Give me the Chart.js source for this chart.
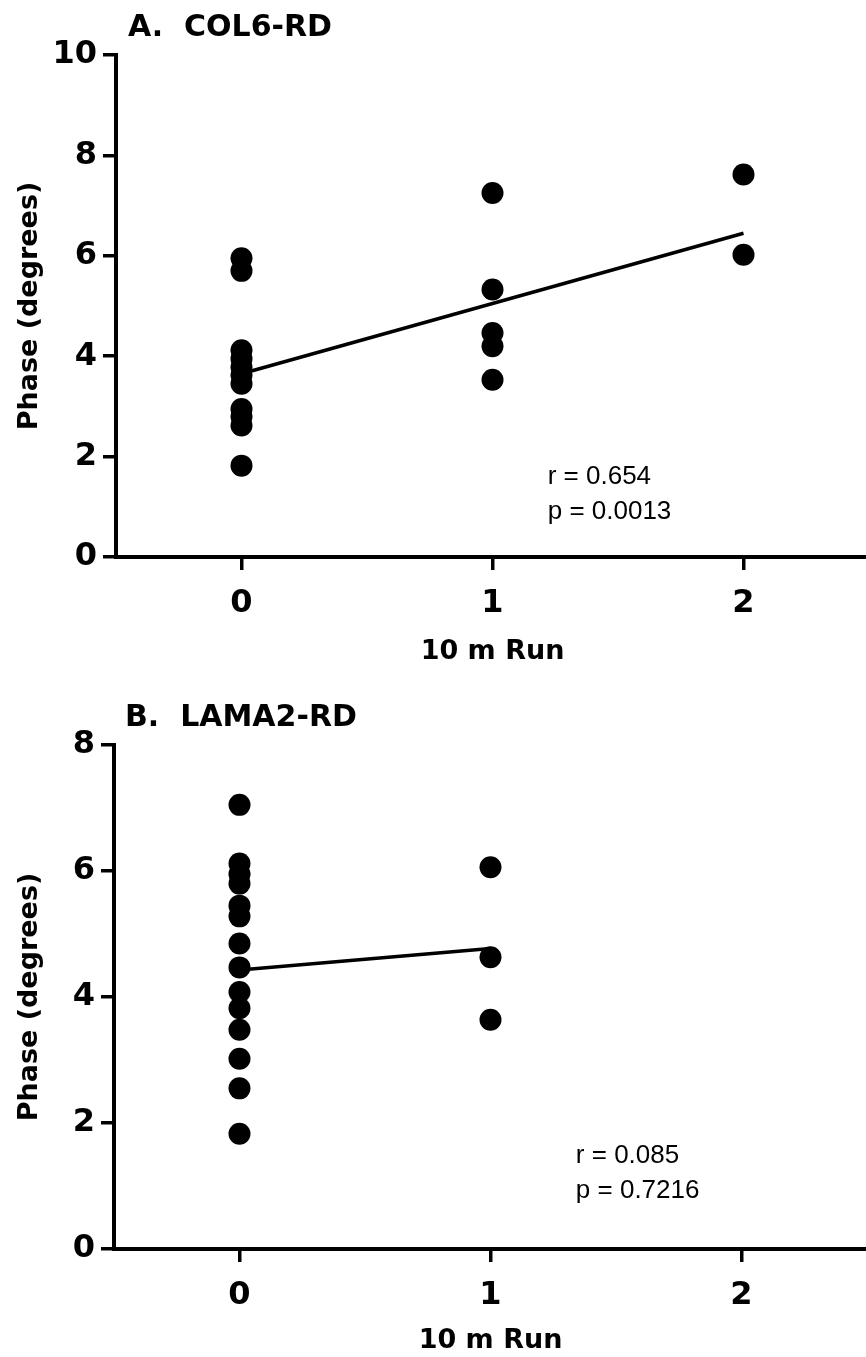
<!DOCTYPE html>
<html>
<head>
<meta charset="utf-8">
<script src="https://cdn.jsdelivr.net/npm/chart.js@4/dist/chart.umd.min.js"></script>
<style>
html,body{margin:0;padding:0;background:#fff;overflow:hidden;width:866px;height:1357px;}
.wrap{position:absolute;left:0;width:880px;}
canvas{display:block;}
</style>
</head>
<body>
<div class="wrap" style="top:0;height:680px"><canvas id="ca" width="880" height="680"></canvas></div>
<div class="wrap" style="top:660px;height:697px"><canvas id="cb" width="880" height="697"></canvas></div>
<script>
// ---- data ----
const runValues = [0, 1, 2];
const runTickLabels = ['0', '1', '2'];
const xAxisTitle = '10 m Run';
const yAxisTitle = 'Phase (degrees)';

// Panel A: COL6-RD
const colTitle = 'A.  COL6-RD';
const colRun   = [0,0,0,0,0,0,0,0,0,0,0, 1,1,1,1,1, 2,2];
const colPhase = [5.95,5.70,4.12,3.95,3.78,3.62,3.45,2.95,2.80,2.62,1.82, 7.25,5.33,4.46,4.20,3.53, 7.62,6.02];
const colFitRun   = [0, 2];
const colFitPhase = [3.65, 6.45];
const colYTicks = [0, 2, 4, 6, 8, 10];
const colStats = ['r = 0.654', 'p = 0.0013'];

// Panel B: LAMA2-RD
const lamTitle = 'B.  LAMA2-RD';
const lamRun   = [0,0,0,0,0,0,0,0,0,0,0,0,0,0, 1,1,1];
const lamPhase = [7.05,6.12,5.95,5.80,5.45,5.28,4.85,4.47,4.08,3.82,3.48,3.02,2.55,1.83, 6.06,4.63,3.64];
const lamFitRun   = [0, 1];
const lamFitPhase = [4.43, 4.77];
const lamYTicks = [0, 2, 4, 6, 8];
const lamStats = ['r = 0.085', 'p = 0.7216'];

// ---- drawing ----
const BOLD = '"DejaVu Sans", "Liberation Sans", Arial, sans-serif';
const REG = '"Liberation Sans", Arial, sans-serif';

const panelText = {
  id: 'panelText',
  afterDraw(chart, args, o) {
    const ctx = chart.ctx;
    ctx.save();
    ctx.fillStyle = '#000';
    ctx.textAlign = 'left';
    ctx.textBaseline = 'middle';
    ctx.font = 'bold 30px ' + BOLD;
    ctx.fillText(o.title, o.titleX, o.titleY);
    ctx.font = '26px ' + REG;
    ctx.textBaseline = 'alphabetic';
    const sx = chart.scales.x.getPixelForValue(o.statAt[0]);
    const sy = chart.scales.y.getPixelForValue(o.statAt[1]);
    o.stats.forEach((s, i) => ctx.fillText(s, sx, sy + i * 35));
    ctx.restore();
  }
};

function makePanel(canvas, cfg) {
  const pts = cfg.run.map((r, i) => ({x: r, y: cfg.phase[i]}));
  const fit = cfg.fitRun.map((r, i) => ({x: r, y: cfg.fitPhase[i]}));
  return new Chart(canvas, {
    type: 'scatter',
    data: {
      datasets: [
        {data: fit, showLine: true, borderColor: '#000', borderWidth: 3.5, pointRadius: 0, fill: false, order: 1},
        {data: pts, backgroundColor: '#000', borderColor: '#000', borderWidth: 0, pointRadius: 11, pointHoverRadius: 11, order: 2}
      ]
    },
    options: {
      responsive: false,
      animation: false,
      events: [],
      layout: {padding: {top: cfg.top, left: 0, right: cfg.rightPad, bottom: 0}},
      plugins: {
        legend: {display: false},
        tooltip: {enabled: false},
        title: {display: false},
        panelText: {title: cfg.title, titleX: cfg.titleX, titleY: cfg.titleY, stats: cfg.stats, statAt: cfg.statAt}
      },
      scales: {
        x: {
          type: 'linear', min: -0.5, max: 2.5,
          afterBuildTicks: s => { s.ticks = runValues.map(v => ({value: v})); },
          afterFit: s => { s.height = cfg.xHeight; },
          ticks: {color: '#000', font: {family: BOLD, size: 32, weight: 'bold'}, padding: 14,
                  callback: v => runTickLabels[runValues.indexOf(v)]},
          grid: {drawOnChartArea: false, drawTicks: true, tickLength: 13, color: '#000', lineWidth: 3.5, tickWidth: 3.5},
          border: {display: true, color: '#000', width: 4},
          title: {display: true, text: xAxisTitle, color: '#000', font: {family: BOLD, size: 27, weight: 'bold'},
                  padding: {top: 0, bottom: cfg.xTitlePad}}
        },
        y: {
          type: 'linear', min: 0, max: cfg.yMax,
          afterBuildTicks: s => { s.ticks = cfg.yTicks.map(v => ({value: v})); },
          afterFit: s => { s.width = cfg.left; },
          ticks: {color: '#000', font: {family: BOLD, size: 32, weight: 'bold'}, padding: 6},
          grid: {drawOnChartArea: false, drawTicks: true, tickLength: 13, color: '#000', lineWidth: 3.5, tickWidth: 3.5},
          border: {display: true, color: '#000', width: 4},
          title: {display: true, text: yAxisTitle, color: '#000', font: {family: BOLD, size: 27, weight: 'bold'},
                  padding: {top: 14, bottom: 0}}
        }
      }
    },
    plugins: [panelText]
  });
}

makePanel(document.getElementById('ca'), {
  run: colRun, phase: colPhase, fitRun: colFitRun, fitPhase: colFitPhase,
  yMax: 10, yTicks: colYTicks, stats: colStats, statAt: [1.22, 1.45],
  title: colTitle, titleX: 128, titleY: 28,
  top: 55, left: 116, rightPad: 11, xHeight: 123, xTitlePad: 12
});

makePanel(document.getElementById('cb'), {
  run: lamRun, phase: lamPhase, fitRun: lamFitRun, fitPhase: lamFitPhase,
  yMax: 8, yTicks: lamYTicks, stats: lamStats, statAt: [1.34, 1.365],
  title: lamTitle, titleX: 125, titleY: 58,
  top: 85, left: 114, rightPad: 13, xHeight: 108, xTitlePad: 0
});
</script>
</body>
</html>
